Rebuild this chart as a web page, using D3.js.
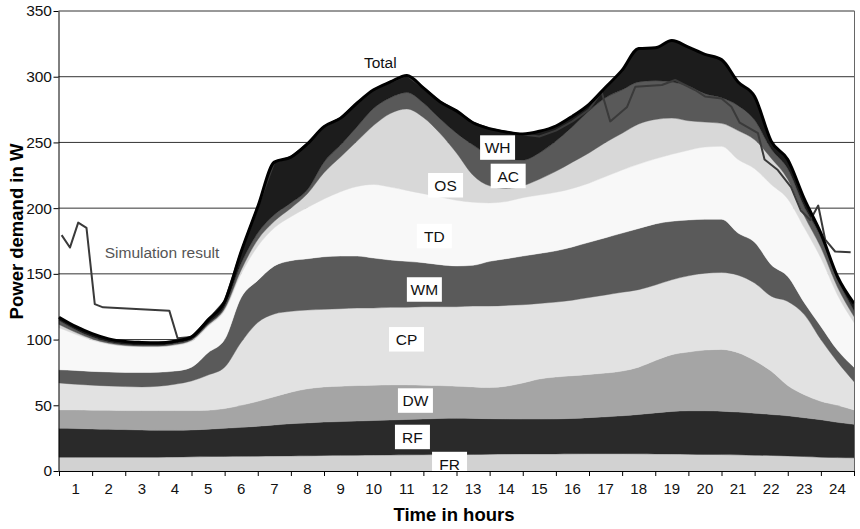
<!DOCTYPE html>
<html>
<head>
<meta charset="utf-8">
<script src="https://cdn.jsdelivr.net/npm/d3@7"></script>
<style>
  body { margin: 0; background: #fff; }
  svg { display: block; font-family: "Liberation Sans", Arial, Helvetica, sans-serif; }
</style>
</head>
<body>
<svg id="chart" width="860" height="529"></svg>
<script>
// Time of day in hours, half-hour resolution
const hours = [
  0, 0.5, 1, 1.5, 2, 2.5, 3, 3.5, 4, 4.5,
  5, 5.5, 6, 6.5, 7, 7.5, 8, 8.5, 9, 9.5,
  10, 10.5, 11, 11.5, 12, 12.5, 13, 13.5, 14, 14.5,
  15, 15.5, 16, 16.5, 17, 17.5, 18, 18.5, 19, 19.5,
  20, 20.5, 21, 21.5, 22, 22.5, 23, 23.5, 24
];

// Cumulative power demand (W) at the upper edge of each appliance band
const edgeFR = [
  10.5, 10.5, 10.5, 10.5, 10.5, 10.5, 10.5, 10.6, 10.8, 11,
  11.1, 11.2, 11.3, 11.4, 11.5, 11.6, 11.8, 11.9, 12, 12.1,
  12.2, 12.3, 12.4, 12.5, 12.5, 12.6, 12.8, 12.9, 13, 13,
  13, 13.1, 13.2, 13.2, 13.2, 13.1, 13, 12.9, 12.8, 12.6,
  12.5, 12.3, 12, 11.8, 11.5, 11, 10.5, 10.2, 10
];
const edgeRF = [
  32.5, 32.3, 32, 31.8, 31.5, 31.2, 31, 31, 31.2, 31.8,
  32.5, 33.2, 34, 35, 36, 36.6, 37.2, 37.6, 38, 38.4,
  38.8, 39.2, 39.6, 40, 40.2, 40, 39.8, 39.6, 39.5, 39.5,
  39.6, 40, 40.6, 41.2, 42, 43, 44.2, 45.3, 45.8, 45.8,
  45.5, 44.8, 44, 43, 42, 40.5, 39, 37, 35.5
];
const edgeDW = [
  46.5, 46.5, 46.3, 46.2, 46, 46, 46, 46, 46, 46.2,
  47.5, 50, 53, 56.5, 60, 62.5, 64, 64.5, 65, 65.3,
  65.5, 65.5, 65.3, 65, 64.5, 64, 63.5, 64.5, 67, 70,
  71.5, 72.5, 73.5, 74.5, 76, 79, 84, 88.5, 90.5, 92,
  92.5, 90, 84, 76, 65, 58, 53, 50, 46.5
];
const edgeCP = [
  67, 66, 65.3, 64.7, 64.2, 64, 64.5, 66, 68.5, 73,
  79, 98, 113, 119.5, 121.5, 122.5, 123, 123.5, 124, 124,
  124.5, 124.5, 125, 125, 125, 125.5, 125.5, 126, 126.5, 127.5,
  128.5, 130, 132, 134, 136, 138, 141.5, 145.5, 148.5, 150.5,
  151, 149, 143, 133, 129, 119, 100, 83, 68
];
const edgeWM = [
  77, 76.5, 75.8, 75.3, 75, 75, 75.2, 76, 79, 90,
  100, 132, 145, 156, 160, 161.5, 163, 163.5, 163.5, 162,
  160.5, 159.5, 158.5, 157, 156, 156.5, 159.5, 161.5, 163.5, 165.5,
  167.5, 170.5, 174, 177.5, 181, 184.5, 188, 190, 191, 191.5,
  191.5, 181, 174, 157, 148, 128, 110, 92, 79
];
const edgeTD = [
  109, 104, 99.5, 96.5, 95, 94.5, 94.5, 95.5, 98.5, 110,
  122, 150, 171, 185, 193.5, 200.5, 207, 212.5, 216.5, 218,
  216, 213.5, 211, 208.5, 206, 204.5, 204, 205, 208, 210,
  212, 215, 219, 224, 229, 233.5, 237.5, 241, 244, 246.5,
  247, 237, 230, 218, 207, 185, 162, 134, 113
];
const edgeOS = [
  111.5, 105.5, 100.5, 97.2, 95.5, 95, 95, 96.2, 99.5, 111,
  123.5, 153, 176, 190, 200, 211, 227, 239, 251, 263,
  272, 275.5, 269, 257, 242, 225, 217, 215, 217, 222,
  228, 235, 242, 250, 257, 264, 267.5, 268.5, 266.5, 265.5,
  264.5, 259, 252, 238, 222, 194, 170, 140, 117.5
];
const edgeAC = [
  114.5, 107.5, 102, 98.2, 96.3, 95.8, 95.6, 97, 100.2, 112,
  125, 158, 181, 195, 204, 214, 235, 248, 262, 276,
  284, 288, 280, 268, 257, 248, 240, 237, 236.5, 242,
  251, 262, 274, 284, 290, 296, 297, 296, 293, 287,
  284, 278, 267, 245, 230, 201, 178, 146, 122
];
// Upper edge of the water heater band = total demand
const edgeTotal = [
  117, 110, 104.5, 100.5, 98.5, 97.8, 97.5, 98.8, 102, 115,
  129, 167, 201, 235, 238.8, 249, 262, 268.5, 280, 290,
  296, 301, 291.5, 281, 274, 265, 260.5, 258, 256.5, 258.5,
  262.5, 270, 279, 292, 305, 321.5, 322, 327.5, 322.5, 317,
  313, 296, 285, 251, 237, 207, 181, 148, 127.5
];

// Simulated total demand
const simHours = [
  0.08, 0.33, 0.58, 0.83, 1.08, 1.33, 3.33, 3.58, 4, 4.5,
  5, 5.5, 6, 6.5, 7, 7.5, 8, 8.5, 9, 9.5,
  10, 10.5, 11, 11.5, 12, 12.5, 13, 13.5, 14, 14.5,
  15, 15.5, 16, 16.38, 16.64, 17.15, 17.4, 18.2, 18.6, 19.2,
  19.5, 20, 20.3, 20.55, 21.1, 21.3, 21.7, 22.1, 22.4, 22.68,
  22.92, 23.13, 23.43, 23.9
];
const simValues = [
  179.5, 170, 189, 185, 127, 124.5, 122, 101, 102, 115,
  129, 167, 201, 235, 238.8, 249, 262, 268.5, 280, 290,
  296, 301, 291.5, 281, 274, 265, 260.5, 258, 256, 254.5,
  259, 266, 275, 288.6, 266, 277, 292.4, 293.7, 297.5, 289.9,
  285, 283.5, 277.2, 265, 257, 237, 229, 216, 198, 191,
  202, 176, 167, 166.5
];

const hourLabels = ["1","2","3","4","5","6","7","8","9","10","11","12",
                    "13","14","15","16","17","18","19","20","21","22","23","24"];
const yTicks = [0, 50, 100, 150, 200, 250, 300, 350];

// Band definitions, bottom to top
const bands = [
  { key: "FR", edge: edgeFR,    fill: "#d2d2d2" },
  { key: "RF", edge: edgeRF,    fill: "#2a2a2a" },
  { key: "DW", edge: edgeDW,    fill: "#a5a5a5" },
  { key: "CP", edge: edgeCP,    fill: "#e2e2e2" },
  { key: "WM", edge: edgeWM,    fill: "#5a5a5a" },
  { key: "TD", edge: edgeTD,    fill: "#f8f8f8" },
  { key: "OS", edge: edgeOS,    fill: "#d8d8d8" },
  { key: "AC", edge: edgeAC,    fill: "#595959" },
  { key: "WH", edge: edgeTotal, fill: "#1c1c1c" }
];

// Band labels placed in data coordinates (hour, W)
const bandLabels = [
  { text: "WH", t: 13.24, v: 246.1 },
  { text: "AC", t: 13.56, v: 224.5 },
  { text: "OS", t: 11.67, v: 217.4 },
  { text: "TD", t: 11.33, v: 178.8 },
  { text: "WM", t: 11.03, v: 138.1 },
  { text: "CP", t: 10.49, v: 100.2 },
  { text: "DW", t: 10.76, v: 53.6 },
  { text: "RF", t: 10.67, v: 25.9 },
  { text: "FR", t: 11.79, v: 5.3 }
];

const svg = d3.select("#chart");
const x = d3.scaleLinear().domain([0, 24]).range([59, 854]);
const y = d3.scaleLinear().domain([0, 350]).range([471, 11]);
const xL = x(0) - 0.5, xR = 854.5;

// Horizontal grid lines
svg.append("g")
  .selectAll("line")
  .data(yTicks.filter(d => d > 0))
  .join("line")
  .attr("x1", xL).attr("x2", xR)
  .attr("y1", d => y(d)).attr("y2", d => y(d))
  .attr("stroke", "#333").attr("stroke-width", 1);

// Stacked bands
const curve = d3.curveMonotoneX;
const gBands = svg.append("g");
bands.forEach((b, i) => {
  const lower = i === 0 ? null : bands[i - 1].edge;
  const area = d3.area()
    .x((d, j) => x(hours[j]))
    .y0((d, j) => lower ? y(lower[j]) : y(0))
    .y1((d, j) => y(b.edge[j]))
    .curve(curve);
  gBands.append("path")
    .attr("d", area(b.edge))
    .attr("fill", b.fill)
    .attr("stroke", b.fill)
    .attr("stroke-width", 0.4);
});

// Simulation result line (straight segments between samples)
const simLine = d3.line()
  .x((d, j) => x(simHours[j]))
  .y(d => y(d));
svg.append("path")
  .attr("d", simLine(simValues))
  .attr("fill", "none")
  .attr("stroke", "#3a3a3a")
  .attr("stroke-width", 2)
  .attr("stroke-linejoin", "round");

// Total demand outline
const totalLine = d3.line()
  .x((d, j) => x(hours[j]))
  .y(d => y(d))
  .curve(curve);
svg.append("path")
  .attr("d", totalLine(edgeTotal))
  .attr("fill", "none")
  .attr("stroke", "#000")
  .attr("stroke-width", 3)
  .attr("stroke-linejoin", "round");

// Band labels in white boxes
const gLab = svg.append("g");
bandLabels.forEach(l => {
  const cx = x(l.t), cy = y(l.v);
  gLab.append("rect")
    .attr("x", cx - 17.5).attr("y", cy - 12.25)
    .attr("width", 35).attr("height", 24.5)
    .attr("fill", "#fff");
  gLab.append("text")
    .attr("x", cx).attr("y", cy)
    .attr("dy", "0.36em")
    .attr("text-anchor", "middle")
    .attr("font-size", 15.5)
    .attr("fill", "#111")
    .text(l.text);
});

// Right frame
svg.append("line")
  .attr("x1", xR).attr("x2", xR)
  .attr("y1", y(350)).attr("y2", y(0))
  .attr("stroke", "#666").attr("stroke-width", 1);

// Y axis
const yAxis = svg.append("g")
  .attr("transform", `translate(${xL},0)`)
  .call(d3.axisLeft(y).tickValues(yTicks).tickSize(5).tickSizeOuter(0).tickPadding(1.5));
yAxis.select(".domain").attr("stroke", "#000");
yAxis.selectAll(".tick line").attr("stroke", "#000");
yAxis.selectAll(".tick text")
  .attr("font-size", 15.5).attr("fill", "#111")
  .attr("font-family", "'Liberation Sans', Arial, sans-serif");

// X axis: hour boundaries as ticks, hour numbers centred in each interval
const xAxis = svg.append("g")
  .attr("transform", `translate(0,${y(0)})`)
  .call(d3.axisBottom(x).tickValues(d3.range(0, 25)).tickSize(5).tickSizeOuter(0).tickFormat(""));
xAxis.select(".domain").attr("stroke", "#000").attr("d", `M${xL},0.5H${xR}`);
xAxis.selectAll(".tick line").attr("stroke", "#000");
svg.append("g")
  .selectAll("text")
  .data(hourLabels)
  .join("text")
  .attr("x", (d, i) => x(i + 0.5))
  .attr("y", 494)
  .attr("text-anchor", "middle")
  .attr("font-size", 15)
  .attr("fill", "#111")
  .text(d => d);

// Axis titles
svg.append("text")
  .attr("x", 454).attr("y", 521)
  .attr("text-anchor", "middle")
  .attr("font-size", 18.5).attr("font-weight", "bold")
  .text("Time in hours");
svg.append("text")
  .attr("transform", "translate(23,231.5) rotate(-90)")
  .attr("text-anchor", "middle")
  .attr("font-size", 18.5).attr("font-weight", "bold")
  .text("Power demand in W");

// Annotations
svg.append("text")
  .attr("x", x(9.7)).attr("y", y(306.4))
  .attr("text-anchor", "middle")
  .attr("font-size", 15.5).attr("fill", "#111")
  .text("Total");
svg.append("text")
  .attr("x", x(1.38)).attr("y", y(162))
  .attr("font-size", 15.5).attr("fill", "#555")
  .text("Simulation result");
</script>
</body>
</html>
